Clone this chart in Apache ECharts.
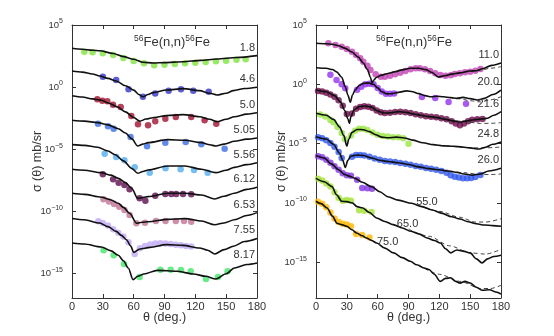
<!DOCTYPE html>
<html><head><meta charset="utf-8">
<script src="https://cdn.jsdelivr.net/npm/echarts@6/dist/echarts.min.js"></script>
<style>html,body{margin:0;padding:0;background:#fff}#c{width:554px;height:336px}</style>
</head><body><div id="c"></div>
<script>
// All y values are log10(sigma) in mb/sr (curves offset by decades as in the figure)
// ---------- Left panel ----------
const L18=[[0,3.12],[10,3.05],[20,2.97],[27,2.93],[40,2.7],[50,2.45],[60,2.24],[69,2.0],[79,1.94],[90,1.97],[108,2.04],[125,2.15],[141,2.26],[160,2.38],[180,2.53]];
const P18=[[12,2.85],[20,2.8],[30,2.72],[40,2.58],[50,2.34],[60,2.1],[70,1.91],[80,1.75],[90,1.8],[100,1.86],[110,1.91],[120,1.96],[130,2.02],[140,2.07],[150,2.12],[160,2.2],[169,2.24]];
const L46=[[0,1.29],[10,1.2],[20,1.05],[27,0.89],[35,0.7],[43,0.49],[52,0.1],[60,-0.25],[65,-0.6],[69,-0.78],[74,-0.6],[79,-0.45],[92,-0.24],[108,-0.13],[124,-0.29],[134,-0.5],[141,-0.64],[150,-0.5],[157,-0.29],[168,-0.12],[180,-0.02]];
const P46=[[30,0.83],[43,0.57],[55,-0.18],[69,-0.78],[81,-0.53],[94,-0.29],[106,-0.18],[118,-0.29],[133,-0.37]];
const L50=[[0,-0.7],[10,-0.8],[20,-0.95],[28,-1.05],[36,-1.3],[44,-1.6],[52,-2.0],[60,-2.45],[66,-2.75],[72,-2.58],[80,-2.45],[92,-2.3],[108,-2.22],[124,-2.39],[134,-2.6],[141,-2.8],[150,-2.6],[158,-2.39],[170,-2.18],[180,-2.07]];
const P50=[[24.6,-0.99],[29.5,-1.1],[34.4,-1.15],[39.9,-1.42],[47.4,-1.61],[57.7,-2.33],[64.2,-3.0],[74,-3.08],[81,-2.76],[90.8,-2.55],[101,-2.41],[116,-2.41],[129,-2.68],[140.4,-2.95]];
const L505=[[0,-2.68],[12,-2.75],[25,-2.87],[35,-3.05],[45,-3.36],[52,-3.7],[58,-4.16],[64,-4.75],[69,-4.6],[74,-4.48],[93,-4.24],[110,-4.29],[126,-4.48],[134,-4.65],[140,-4.75],[148,-4.6],[158,-4.37],[170,-4.2],[180,-4.1]];
const P505=[[25.3,-2.95],[35,-3.16],[40.5,-3.36],[57,-4.03],[73,-4.78],[90.8,-4.48],[110.6,-4.43],[125.8,-4.61],[148.5,-4.97]];
const L556=[[0,-4.64],[12,-4.7],[25,-4.85],[35,-5.15],[42,-5.45],[50,-5.95],[58,-6.55],[64,-6.95],[69,-6.8],[74,-6.68],[93,-6.36],[110,-6.36],[126,-6.63],[140,-6.9],[150,-6.7],[158,-6.47],[170,-6.25],[180,-6.1]];
const P556=[[31.8,-5.37],[43,-5.64],[51,-5.9],[61,-6.47],[75.6,-6.9],[91,-6.55],[105.7,-6.63],[118.7,-6.68],[132,-6.9]];
const L612=[[0,-6.63],[12,-6.7],[28.5,-6.9],[38,-7.1],[45,-7.36],[52,-7.7],[58,-8.16],[64,-8.97],[69,-8.9],[74,-8.83],[93,-8.56],[110,-8.56],[126,-8.7],[139,-9.02],[148,-8.8],[158,-8.56],[170,-8.25],[180,-8.08]];
const P612=[[30,-7.03],[40,-7.43],[45.4,-7.71],[51,-7.89],[56,-8.24],[65.8,-8.97],[71.4,-9.16],[81,-8.76],[90.8,-8.62],[96.6,-8.62],[101.4,-8.62],[108,-8.62],[116,-8.64]];
const L653=[[0,-8.56],[12,-8.65],[28.5,-8.88],[38,-9.1],[45,-9.37],[50,-9.7],[56,-10.17],[63,-10.98],[68,-10.9],[74,-10.85],[93,-10.66],[110,-10.6],[126,-10.8],[139,-11.1],[148,-10.95],[158,-10.7],[170,-10.35],[180,-10.12]];
const P653=[[30.6,-9.04],[36,-9.23],[41,-9.42],[46,-9.64],[51,-9.9],[56,-10.31],[62.6,-10.98],[71,-10.93],[81.6,-10.79],[91,-10.79],[101,-10.79],[109,-10.79],[116,-10.85]];
const L755=[[0,-10.6],[12,-10.7],[27,-10.96],[35,-11.25],[43,-11.63],[48,-11.95],[53,-12.3],[57,-12.8],[60,-13.32],[66,-13.05],[76,-12.92],[92,-12.7],[108,-12.76],[124,-12.97],[132,-13.15],[139,-13.45],[148,-13.1],[157,-12.83],[168,-12.45],[180,-12.2]];
const P755=[[25.6,-10.82],[30,-10.95],[35,-11.15],[40,-11.45],[45,-11.75],[50,-12.05],[55,-12.5],[61,-13.45],[66,-13.0],[71,-12.8],[76,-12.68],[81,-12.6],[86,-12.58],[91,-12.6],[96,-12.65],[101,-12.7],[106,-12.75],[111,-12.8],[116,-12.85]];
const L817=[[0,-12.57],[12,-12.65],[28.5,-12.89],[38,-13.2],[45,-13.56],[50,-14.0],[54.7,-14.58],[59.4,-15.52],[64,-15.25],[70,-15.06],[83,-14.77],[102,-14.85],[118,-15.06],[130,-15.25],[140,-15.47],[150,-15.05],[158,-14.58],[170,-14.3],[180,-14.18]];
const P817=[[30.8,-13.16],[40.5,-13.56],[50.6,-14.26],[65.8,-15.31],[86,-14.72],[96,-14.72],[106,-14.75],[115.5,-14.85],[130.4,-15.47],[142,-15.31],[151.4,-14.85]];
// ---------- Right panel ----------
const R110=[[0,3.46],[10,3.42],[16,3.38],[22,3.25],[28,3.05],[35,2.72],[41,2.3],[46,1.8],[50,1.25],[53,0.6],[54.5,0.1],[56,0.35],[59,0.6],[64,0.78],[70,0.92],[76,1.05],[84,1.22],[92,1.36],[100,1.36],[107,1.24],[113,1.0],[119,0.62],[125,0.72],[132,0.86],[140,0.97],[149,1.12],[156,1.15],[162,1.32],[171,1.6],[180,1.8]];
const D110=[[130,0.84],[140,0.96],[150,1.08],[160,1.2],[170,1.36],[180,1.49]];
const P110=[[12,3.46],[19,3.32],[25,3.17],[30,2.98],[35,2.75],[39,2.47],[43,2.19],[46,1.91],[50,1.57],[53,1.21],[58,0.85],[63,0.64],[67,0.64],[72,0.73],[77,0.85],[82,0.98],[87,1.12],[92,1.27],[97,1.35],[101,1.35],[106,1.27],[111,1.12],[116,0.93],[121,0.79],[126,0.73],[131,0.76],[135,0.87],[140,0.93],[145,1.01],[150,1.07],[155,1.15],[160,1.29]];
const R200=[[0,1.4],[10,1.35],[16,1.25],[20,1.05],[25,0.6],[28.5,-0.2],[31,-0.9],[33.4,-1.5],[35.5,-0.9],[38,-0.48],[42,-0.1],[46,0.08],[51,0.12],[56,0.0],[60,-0.3],[64,-0.62],[69,-0.8],[74,-0.78],[80,-0.68],[88,-0.55],[94,-0.62],[100,-0.78],[106,-0.95],[112,-1.04],[118,-1.0],[124,-1.05],[131,-1.12],[137,-1.18],[143,-1.1],[150,-1.2],[157,-1.32],[164,-1.18],[172,-0.85],[180,-0.48]];
const D200=[[130,-1.1],[140,-1.22],[150,-1.38],[160,-1.48],[170,-1.3],[180,-1.04]];
const P200=[[14,0.8],[20,0.37],[25,0.0],[28.5,-0.33],[40,-0.45],[44,-0.2],[48,0.0],[52,0.05],[56,0.0],[60,-0.3],[64,-0.6],[68,-0.79],[72,-0.8],[76,-0.78],[103,-1.07],[116,-1.15],[129,-1.49],[146,-1.63]];
const R216=[[0,-0.48],[10,-0.62],[18,-0.95],[24,-1.5],[28,-2.2],[31,-2.9],[32.5,-3.3],[34,-2.7],[37,-2.15],[42,-1.88],[48,-1.82],[54,-1.92],[60,-2.25],[66,-2.42],[72,-2.4],[80,-2.3],[88,-2.36],[95,-2.5],[102,-2.6],[110,-2.72],[118,-2.8],[126,-2.95],[133,-3.08],[140,-3.18],[147,-3.08],[154,-2.98],[161,-2.92],[167,-2.85],[173,-2.6],[180,-2.3]];
const D216=[[130,-3.0],[140,-3.1],[150,-3.2],[160,-3.3],[170,-3.28],[180,-3.23]];
const P216=[[2,-0.55],[6,-0.6],[10,-0.7],[14,-0.85],[18,-1.05],[22,-1.35],[26,-1.8],[30,-2.5],[35,-2.45],[39,-2.05],[43,-1.9],[47,-1.85],[51,-1.88],[55,-2.0],[59,-2.2],[63,-2.35],[67,-2.42],[72,-2.4],[77,-2.33],[82,-2.3],[87,-2.35],[92,-2.42],[97,-2.52],[102,-2.6],[107,-2.68],[112,-2.72],[117,-2.78],[122,-2.85],[127,-2.95],[132,-3.1],[136,-3.3],[140,-3.45],[144,-3.3],[148,-3.1],[152,-2.98],[157,-2.95],[162,-2.92]];
const R248=[[0,-2.44],[10,-2.6],[17,-2.95],[23,-3.6],[27,-4.3],[30,-5.2],[32,-4.6],[35,-4.05],[40,-3.8],[46,-3.82],[52,-3.98],[58,-4.25],[64,-4.45],[70,-4.5],[78,-4.45],[86,-4.52],[94,-4.7],[104,-4.92],[114,-5.08],[124,-5.18],[134,-5.22],[142,-5.28],[150,-5.35],[158,-5.45],[165,-5.3],[172,-5.05],[180,-4.85]];
const D248=[[120,-5.12],[135,-5.25],[150,-5.35],[165,-5.35],[180,-5.28]];
const P248=[[4,-2.55],[9,-2.7],[14,-3.0],[17,-3.2],[21,-3.6],[25,-4.1],[28,-4.6],[34,-4.3],[38,-3.9],[42,-3.75],[46,-3.75],[50,-3.85],[55,-4.05],[60,-4.25],[65,-4.35],[70,-4.4],[75,-4.45],[80,-4.45],[85,-4.55],[90,-5.0]];
const R260=[[0,-4.41],[10,-4.6],[17,-5.05],[23,-5.8],[26,-6.4],[28.5,-7.0],[31,-6.4],[34,-6.05],[40,-5.95],[46,-6.0],[54,-6.2],[62,-6.4],[70,-6.5],[80,-6.6],[90,-6.75],[100,-6.95],[110,-7.1],[120,-7.2],[128,-7.3],[136,-7.4],[144,-7.55],[152,-7.65],[160,-7.55],[168,-7.3],[180,-7.07]];
const D260=[[130,-7.3],[145,-7.45],[160,-7.6],[170,-7.6],[180,-7.55]];
const P260=[[2,-4.45],[6,-4.55],[10,-4.7],[14,-4.95],[18,-5.25],[22,-5.7],[25,-6.2],[35,-6.1],[39,-5.95],[43,-5.95],[47,-6.0],[52,-6.1],[57,-6.25],[62,-6.35],[67,-6.45],[72,-6.5],[77,-6.55],[82,-6.62],[87,-6.7],[92,-6.78],[97,-6.88],[102,-6.95],[107,-7.05],[112,-7.12],[117,-7.2],[122,-7.3],[127,-7.45],[131,-7.65],[135,-7.78],[139,-7.85],[143,-7.92],[147,-7.92],[151,-7.88],[155,-7.8],[160,-7.64]];
const R550=[[0,-6.0],[8,-6.2],[15,-6.7],[22,-7.2],[28,-7.6],[33,-7.75],[38,-7.92],[45,-8.25],[54,-8.62],[62,-9.05],[70,-9.47],[80,-9.75],[93,-10.02],[103,-10.3],[113,-10.59],[122,-10.85],[132,-11.15],[140,-11.35],[148,-11.57],[156,-11.75],[164,-11.85],[172,-11.9],[180,-11.96]];
const D550=[[100,-10.2],[120,-10.7],[140,-11.2],[155,-11.6],[165,-11.6],[180,-11.32]];
const P550=[[2,-6.05],[6,-6.15],[10,-6.35],[14,-6.6],[18,-6.9],[22,-7.2],[26,-7.5],[30,-7.65],[34,-7.7],[40,-8.03],[45,-8.73],[50,-8.75],[54.5,-8.79]];
const R650=[[0,-7.92],[8,-8.2],[15.6,-8.62],[20,-9.3],[25,-9.85],[30,-9.88],[35,-9.97],[40,-10.3],[45,-10.4],[52,-10.8],[59,-11.26],[67,-11.55],[75,-11.82],[84,-12.1],[92,-12.38],[100,-12.6],[108,-12.94],[115,-13.15],[121,-13.37],[126,-13.85],[131,-14.2],[137,-13.95],[143,-14.05],[150,-14.2],[156,-14.7],[161.5,-15.05],[167,-14.7],[173,-14.5],[180,-14.4]];
const D650=[[90,-12.2],[110,-12.8],[130,-13.6],[150,-14.2],[165,-14.3],[180,-13.9]];
const P650=[[2,-7.95],[6,-8.1],[10,-8.35],[14,-8.6],[18,-9.1],[22,-9.55],[26,-9.8],[30,-9.75],[34,-9.8],[42,-10.6],[47,-10.65],[54,-10.75]];
const R750=[[0,-9.85],[5,-10.05],[10.8,-10.42],[16,-11.1],[20.4,-11.7],[25,-11.82],[30,-11.95],[35,-12.25],[39.5,-12.52],[45,-12.75],[49,-12.94],[54,-13.15],[59,-13.37],[67,-13.8],[75.6,-14.2],[84,-14.6],[91.8,-14.91],[98,-15.2],[105,-15.47],[110,-15.6],[115,-16.0],[121,-16.6],[126,-16.35],[131,-16.3],[136,-16.6],[140,-16.75],[145,-16.6],[150,-16.74],[156,-17.1],[162,-17.35],[169,-17.3],[175,-17.5],[180,-17.66]];
const D750=[[100,-15.2],[120,-16.0],[140,-16.6],[160,-17.2],[170,-17.2],[180,-16.93]];
const P750=[[2,-9.9],[6,-10.05],[10,-10.35],[14,-10.8],[18,-11.3],[22,-11.6],[26,-11.75],[30,-11.8],[34,-11.95],[39,-12.6],[45,-12.7],[52,-12.9]];

const yTicks=[5,0,-5,-10,-15];
const leftCurves=[
 {e:'1.8',line:L18,pts:P18,color:'#7ee33c'},
 {e:'4.6',line:L46,pts:P46,color:'#3434c8'},
 {e:'5.0',line:L50,pts:P50,color:'#a3122e'},
 {e:'5.05',line:L505,pts:P505,color:'#3a6ee6'},
 {e:'5.56',line:L556,pts:P556,color:'#52aef0'},
 {e:'6.12',line:L612,pts:P612,color:'#5c0c4c'},
 {e:'6.53',line:L653,pts:P653,color:'#c27494'},
 {e:'7.55',line:L755,pts:P755,color:'#c0aaf6'},
 {e:'8.17',line:L817,pts:P817,color:'#44e66a'}
];
const rightCurves=[
 {e:'11.0',line:R110,dash:D110,pts:P110,color:'#c244b4'},
 {e:'20.0',line:R200,dash:D200,pts:P200,color:'#9432ee'},
 {e:'21.6',line:R216,dash:D216,pts:P216,color:'#6a0c4a'},
 {e:'24.8',line:R248,dash:D248,pts:P248,color:'#9ae644'},
 {e:'26.0',line:R260,dash:D260,pts:P260,color:'#3258ee'},
 {e:'55.0',line:R550,dash:D550,pts:P550,color:'#8234e0',mid:13,off:[5,-5]},
 {e:'65.0',line:R650,dash:D650,pts:P650,color:'#a2e236',mid:14,off:[-3,-7]},
 {e:'75.0',line:R750,dash:D750,pts:P750,color:'#ffb800',mid:14,off:[-6,-11]}
];

const FONT='"Liberation Sans", Arial, sans-serif';
const TXT='#333';
function xAx(g,top){return {type:'value',gridIndex:g,min:0,max:180,interval:30,position:top?'top':'bottom',
 axisLine:{show:true,onZero:false,lineStyle:{color:'#333',width:1}},
 axisTick:{show:true,inside:true,length:4,lineStyle:{color:'#333'}},
 axisLabel:{show:!top,color:TXT,fontSize:11,fontFamily:FONT,margin:3},
 splitLine:{show:false},
 name:top?'':'θ (deg.)',nameLocation:'middle',nameGap:13,nameMoveOverlap:false,nameTextStyle:{color:TXT,fontSize:12.5,fontFamily:FONT}};}
function yAx(g,right,min){return {type:'value',gridIndex:g,min:min,max:5,position:right?'right':'left',
 axisLine:{show:true,onZero:false,lineStyle:{color:'#333',width:1}},
 axisTick:{show:true,inside:true,length:4,lineStyle:{color:'#333'},customValues:yTicks},
 axisLabel:{show:!right,customValues:yTicks,color:TXT,fontSize:9.5,fontFamily:FONT,margin:9,
   formatter:v=>'10{s|'+(v<0?'\u2212'+(-v):v)+'}',
   rich:{s:{fontSize:7,fontFamily:FONT,color:TXT,verticalAlign:'top',padding:[0,0,7,0]}}},
 splitLine:{show:false},
 name:right?'':'σ (θ) mb/sr',nameLocation:'middle',nameGap:28,nameMoveOverlap:false,nameRotate:90,nameTextStyle:{color:TXT,fontSize:12.5,fontFamily:FONT}};}

const series=[];
function add(g,c){
 const ax={xAxisIndex:g*2,yAxisIndex:g*2};
 series.push(Object.assign({type:'scatter',data:c.pts,symbolSize:6.5,itemStyle:{color:c.color},z:2,silent:true},ax));
 if(c.dash) series.push(Object.assign({type:'line',data:c.dash,smooth:0.3,smoothMonotone:'x',symbol:'none',lineStyle:{color:'#444',width:1,type:[4,3]},z:3,silent:true},ax));
 const s=Object.assign({type:'line',data:c.line,smooth:0.3,smoothMonotone:'x',symbol:'none',lineStyle:{color:'#111',width:1.6},z:4,silent:true},ax);
 const lab={show:true,formatter:c.e,color:TXT,fontSize:11,fontFamily:FONT};
 if(c.mid==null){
   s.endLabel=Object.assign({align:'right',verticalAlign:'middle',distance:0,offset:[-2,-8]},lab);
 } else {
   s.markPoint={symbol:'circle',symbolSize:1,itemStyle:{color:'rgba(0,0,0,0)'},silent:true,
     label:Object.assign({position:'inside',offset:c.off},lab),data:[{coord:c.line[c.mid]}]};
 }
 series.push(s);
}
leftCurves.forEach(c=>add(0,c));
rightCurves.forEach(c=>add(1,c));

const titleRich={s:{fontSize:8.5,fontFamily:FONT,color:TXT,verticalAlign:'top',padding:[0,0,7,0]}};
const option={
 animation:false,
 backgroundColor:'#fff',
 title:[
  {text:'{s|56}Fe(n,n){s|56}Fe',left:167,top:29,textAlign:'center',textStyle:{fontSize:13,fontWeight:'normal',fontFamily:FONT,color:TXT,rich:titleRich}},
  {text:'{s|56}Fe(n,n){s|56}Fe',left:409,top:29,textAlign:'center',textStyle:{fontSize:13,fontWeight:'normal',fontFamily:FONT,color:TXT,rich:titleRich}}
 ],
 grid:[{left:72,top:25,width:185,height:273,outerBoundsMode:'none'},{left:316,top:25,width:185,height:273,outerBoundsMode:'none'}],
 xAxis:[xAx(0,false),xAx(0,true),xAx(1,false),xAx(1,true)],
 yAxis:[yAx(0,false,-17),yAx(0,true,-17),yAx(1,false,-18),yAx(1,true,-18)],
 series:series
};
const chart=echarts.init(document.getElementById('c'),null,{renderer:'canvas'});
chart.setOption(option);
</script></body></html>
